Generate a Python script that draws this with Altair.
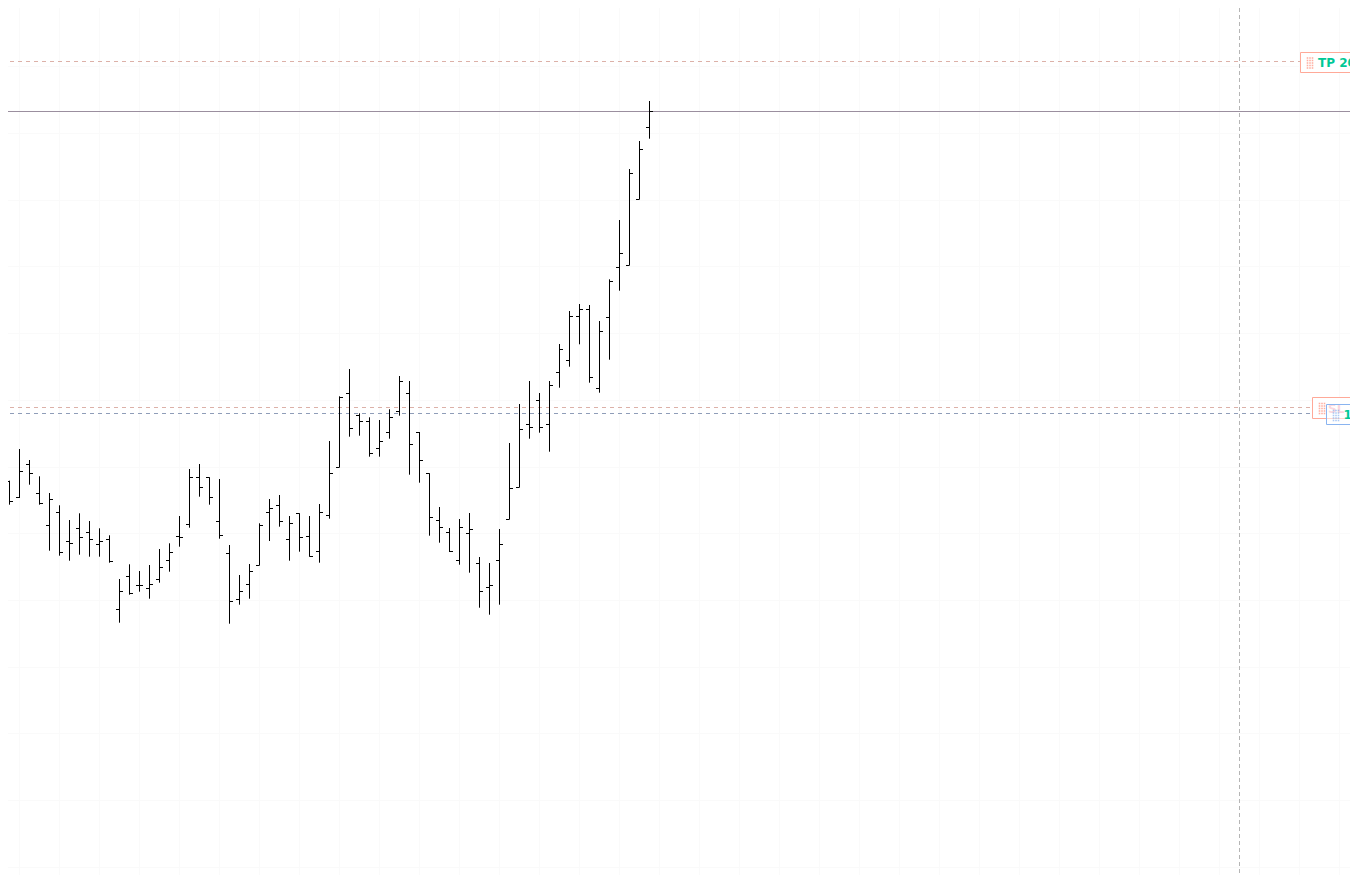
import altair as alt
import numpy as np
import pandas as pd

highs = [480.7,449,460,476.3,493,505.3,520,513.3,521,528.3,535.3,579,564.3,571,565,549,543.3,516,469,464,477.3,479,
         545,575,564,523.3,499,495,516,513.3,516,504,441,396.3,369,413.3,417.3,420,409.3,376,381,432,473.3,507,528,519,513,557,563,529,
         443,404,381,393,381,344,311,304,305,321,279.3,220,169,141,101]
lows = [504.7,498,484.7,504.7,550.7,555.7,560.7,554.7,556.7,556.7,562.7,622.7,594.7,591.7,598.7,582.7,571.7,546.7,527.7,496.7,504.7,538.7,
        623.7,604.7,598.7,565.3,541,526.7,560.7,551.7,556.7,562.7,518.7,467.3,436.7,435.7,456.7,456.7,438.7,415.7,474.7,482.7,535.7,542.7,552,564.7,572.7,607.7,614.7,604.7,
        519.3,487.3,438.7,432.7,451.7,387.7,366.7,344.3,382.7,392.7,359.7,290.7,265.3,199.3,138.7]
opens = [481.3,497.7,464.3,493.3,525.3,512.3,541.3,528.3,532.3,544.3,539.3,609.3,576.3,585.3,588.3,579.3,560.3,536.3,524.3,477.3,477.3,521.3,
         553.3,599.3,584.3,565.3,512.3,505.3,539.3,513.3,536.3,551.3,515.3,467.3,393.3,415.3,421.3,448.3,432.3,411.3,393.3,432,473.3,520.3,532.3,560.3,533.3,563.3,587.3,560.3,
         519.3,487.3,424.3,400.3,424.3,372.3,360.3,316.3,309.3,388.3,317.3,267.3,265.3,199.3,127.3]
closes = [501.3,471.3,473.3,503.3,499.3,552.3,543.7,537.3,539.3,541.3,561.7,591.3,593.7,585.3,584.3,567.3,552.3,537.3,477.3,487.3,497.3,535,
          601.3,591.3,571.3,525.3,508.3,521.3,523.3,537.3,556.7,512.3,473.3,397.3,428.3,421.3,453.7,441.3,417.3,381.3,444.3,460,517.3,527.3,551.3,527.3,529.3,591.3,585.3,544.3,
          488.3,429.3,427.3,427.3,385.3,349.3,316.3,309.3,377.3,331,281.3,253.3,173.3,149.3,111.3]
bar_index = list(range(0, 65))

grid_levels = [66.5,133.5,200.5,266.5,333.5,400.5,467.5,533.5,600.5,667.5,733.5,800.5,867.5]
grid_bars = list(range(1, 134, 4))
order_levels = {"tp": 61.5, "sl": 407.5, "entry": 413.5, "last": 111.5}
cross_bar = 123

SALMON = "#ffa998"
BLUE = "#8ab4f0"
GREEN = "#00c896"

x_s = alt.Scale(domain=[-0.15, 134.05], nice=False, zero=False)
y_s = alt.Scale(domain=[875, 8], nice=False, zero=False)
X = lambda f: alt.X(f, type="quantitative", scale=x_s, axis=None)
Y = lambda f: alt.Y(f, type="quantitative", scale=y_s, axis=None)

snap = lambda v: np.floor(v) + 0.5
bars = pd.DataFrame({"bar": bar_index, "high": highs, "low": lows,
                     "open": snap(np.array(opens)), "close": snap(np.array(closes))})
bars["open_from"] = bars["bar"] - 0.35
bars["close_to"] = bars["bar"] + 0.35

GRID = "#fafafa"
grid_h = alt.Chart(pd.DataFrame({"y": grid_levels})).mark_rule(color=GRID, strokeWidth=1).encode(y=Y("y"))
grid_v = alt.Chart(pd.DataFrame({"x": grid_bars})).mark_rule(color=GRID, strokeWidth=1).encode(x=X("x"))


def hline(level, color, dash=None, opacity=1.0):
    kw = {"strokeDash": dash} if dash else {}
    return alt.Chart(pd.DataFrame({"y": [level]})).mark_rule(color=color, strokeWidth=1, opacity=opacity, **kw).encode(y=Y("y"))


lines = [
    hline(order_levels["tp"], "#b8b8b8", [4, 4]),
    hline(order_levels["tp"], SALMON, [4, 4], 0.5),
    hline(order_levels["sl"], "#b8b8b8", [4, 4]),
    hline(order_levels["sl"], SALMON, [4, 4], 0.5),
    hline(order_levels["entry"], "#8f9db8", [4, 4]),
    hline(order_levels["last"], "#9b8f9f"),
    alt.Chart(pd.DataFrame({"x": [cross_bar]})).mark_rule(color="#b5b5b5", strokeWidth=1, strokeDash=[4, 3]).encode(x=X("x")),
]

stems = alt.Chart(bars).mark_rule(color="#000000", strokeWidth=1).encode(x=X("bar"), y=Y("high"), y2="low")
open_ticks = alt.Chart(bars).mark_rule(color="#000000", strokeWidth=1).encode(x=X("open_from"), x2="bar", y=Y("open"))
close_ticks = alt.Chart(bars).mark_rule(color="#000000", strokeWidth=1).encode(x=X("bar"), x2="close_to", y=Y("close"))


def label(x0, top, bottom, stroke, icon_x, icon_top, icon_color, text, text_x, text_color, text_opacity=1.0, fill_opacity=1.0):
    out = []
    out.append(alt.Chart(pd.DataFrame({"x": [x0], "x2": [140], "y": [top], "y2": [bottom]})).mark_rect(
        fill="#ffffff", fillOpacity=fill_opacity, stroke=stroke, strokeWidth=1, clip=True
    ).encode(x=X("x"), x2="x2", y=Y("y"), y2="y2"))
    cols = [icon_x + 0.05, icon_x + 0.3, icon_x + 0.55]
    rows = [icon_top + 0.5 + 2.5 * r for r in range(5)]
    cells = pd.DataFrame([{"x": c, "y": r} for c in cols for r in rows])
    out.append(alt.Chart(cells).mark_square(size=2.5, color=icon_color, opacity=0.7, clip=True).encode(x=X("x"), y=Y("y")))
    out.append(alt.Chart(pd.DataFrame({"x": [text_x], "y": [(top + bottom) / 2 + 0.5], "t": [text]})).mark_text(
        align="left", baseline="middle", font="DejaVu Sans", fontSize=12, fontWeight="bold",
        color=text_color, opacity=text_opacity, clip=True
    ).encode(x=X("x"), y=Y("y"), text="t:N"))
    return out


# The tags sit 8px left of their reference place: the drawable page ends at x=1350.
labels = (
    label(129.1, 52.5, 72.5, SALMON, 129.75, 57.5, "#ff8f7a", "TP 20", 130.85, GREEN)
    + label(130.3, 397.5, 418.5, SALMON, 130.95, 403, "#ff8f7a", "SL", 131.85, "#f26d85", text_opacity=0.6)
    + label(131.7, 404.5, 424.5, BLUE, 132.35, 410, "#8ab4f0", "1", 133.4, GREEN, fill_opacity=0.55)
)

chart = alt.layer(grid_h, grid_v, *lines, stems, open_ticks, close_ticks, *labels).properties(
    width=1342, height=867, padding=0, background="#ffffff",
    autosize=alt.AutoSizeParams(type="none"),
).configure_view(stroke=None)

chart.save("out.html", embed_options={"renderer": "svg", "actions": False})
